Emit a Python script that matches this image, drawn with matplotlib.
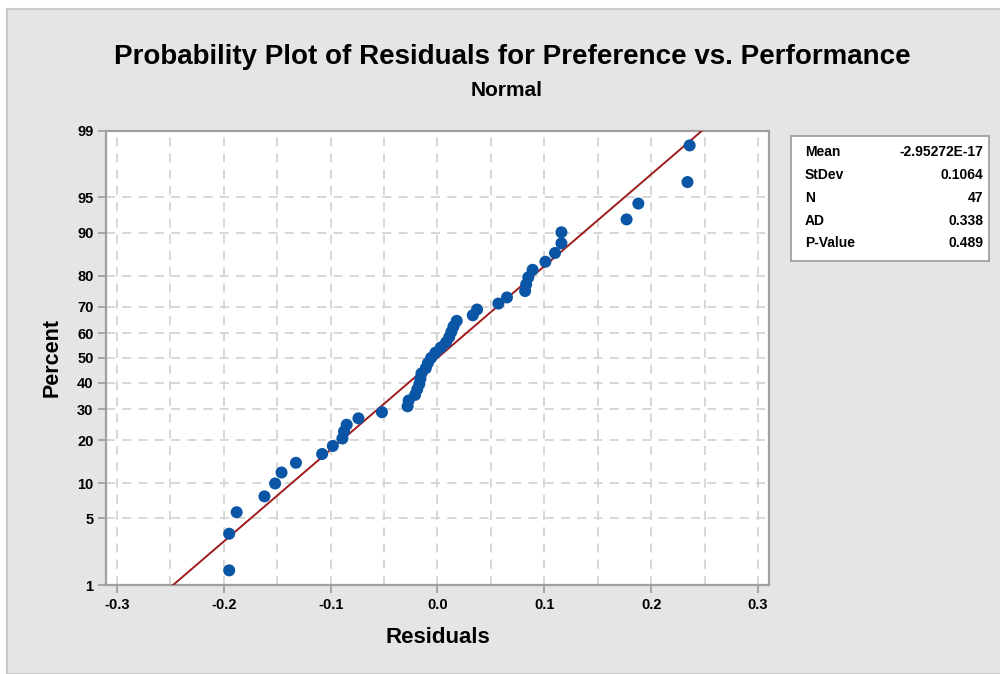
import numpy as np
import matplotlib
matplotlib.use('Agg')
import matplotlib.pyplot as plt
from matplotlib.patches import Rectangle
from statistics import NormalDist

# sorted residuals
residuals = [-0.195, -0.195, -0.188, -0.162, -0.152, -0.146, -0.1325, -0.108,
             -0.098, -0.089, -0.0875, -0.085, -0.074, -0.052, -0.028, -0.027,
             -0.021, -0.019, -0.017, -0.016, -0.015, -0.011, -0.009, -0.006,
             -0.002, 0.003, 0.008, 0.011, 0.013, 0.015, 0.018, 0.033,
             0.037, 0.057, 0.065, 0.082, 0.083, 0.085, 0.089, 0.101,
             0.110, 0.116, 0.116, 0.177, 0.188, 0.234, 0.236]
fit_mean = -2.95272e-17
fit_sd = 0.1064
pct_ticks = [1, 5, 10, 20, 30, 40, 50, 60, 70, 80, 90, 95, 99]
x_ticks = [-0.3, -0.2, -0.1, 0.0, 0.1, 0.2, 0.3]
stat_names = ['Mean', 'StDev', 'N', 'AD', 'P-Value']
stat_values = ['-2.95272E-17', '0.1064', '47', '0.338', '0.489']

plt.rcParams['font.family'] = ['Liberation Sans', 'DejaVu Sans']
plt.rcParams['font.weight'] = 'bold'

nd = NormalDist()
_ppf = np.vectorize(lambda p: nd.inv_cdf(min(max(p / 100.0, 1e-9), 1 - 1e-9)), otypes=[float])
_cdf = np.vectorize(lambda z: nd.cdf(z) * 100.0, otypes=[float])


def forward(p):
    return _ppf(np.asarray(p, dtype=float))


def inverse(z):
    return _cdf(np.asarray(z, dtype=float))


n = len(residuals)
ranks = np.arange(1, n + 1)
percents = (ranks - 0.3) / (n + 0.4) * 100  # median ranks, as Minitab

fig = plt.figure(figsize=(10, 6.74), dpi=100, facecolor='white')
fig.patches.append(Rectangle((0.007, 0), 1.0, 1 - 9 / 674, transform=fig.transFigure,
                             facecolor='#e5e5e5', edgecolor='#c9c9c9', lw=1.5, zorder=-1))

ax = fig.add_axes([0.106, 0.132, 0.663, 0.674])
ax.set_yscale('function', functions=(forward, inverse))
ax.set_ylim(1, 99)
ax.set_xlim(-0.3103, 0.3103)
ax.set_facecolor('white')

# fitted line
pline = np.linspace(0.5, 99.5, 400)
xline = fit_mean + fit_sd * np.array([nd.inv_cdf(p / 100) for p in pline])
ax.plot(xline, pline, color='#a01c1c', lw=1.4, zorder=3)

ax.scatter(residuals, percents, s=75, color='#0a55a5', zorder=4, edgecolors='none')

ax.set_yticks(pct_ticks)
ax.set_yticklabels([str(p) for p in pct_ticks])
ax.yaxis.set_minor_locator(matplotlib.ticker.NullLocator())
ax.set_xticks(x_ticks)
ax.set_xticklabels(['%.1f' % v for v in x_ticks])
ax.set_xticks(np.arange(-0.3, 0.31, 0.05), minor=True)

grid_kw = dict(color='#d4d4d4', linestyle=(0, (5, 4)), linewidth=1.3)
ax.grid(True, axis='x', which='both', **grid_kw)
ax.grid(True, axis='y', which='major', **grid_kw)
ax.set_axisbelow(True)

ax.tick_params(axis='both', which='major', labelsize=10.5, colors='#a0a0a0',
               labelcolor='black', length=6, width=1.3, direction='out', pad=3)
ax.tick_params(axis='x', which='minor', length=0)
for s in ax.spines.values():
    s.set_color('#a0a0a0')
    s.set_linewidth(1.6)

ax.set_xlabel('Residuals', fontsize=16, fontweight='bold', labelpad=11)
ax.set_ylabel('Percent', fontsize=15.5, fontweight='bold', labelpad=10)

fig.text(0.512, 0.915, 'Probability Plot of Residuals for Preference vs. Performance',
         ha='center', va='center', fontsize=20, fontweight='bold')
fig.text(0.507, 0.866, 'Normal', ha='center', va='center', fontsize=15, fontweight='bold')

# stats box
bx = fig.add_axes([0.791, 0.6128, 0.198, 0.1855])
bx.set_xticks([])
bx.set_yticks([])
bx.set_facecolor('white')
for s in bx.spines.values():
    s.set_color('#a0a0a0')
    s.set_linewidth(1.3)
ys = np.linspace(0.87, 0.14, len(stat_names))
for name, val, yy in zip(stat_names, stat_values, ys):
    bx.text(0.07, yy, name, ha='left', va='center', fontsize=10, fontweight='bold',
            transform=bx.transAxes)
    bx.text(0.97, yy, val, ha='right', va='center', fontsize=10, fontweight='bold',
            transform=bx.transAxes)

fig.savefig('out.png', dpi=100, facecolor=fig.get_facecolor())
